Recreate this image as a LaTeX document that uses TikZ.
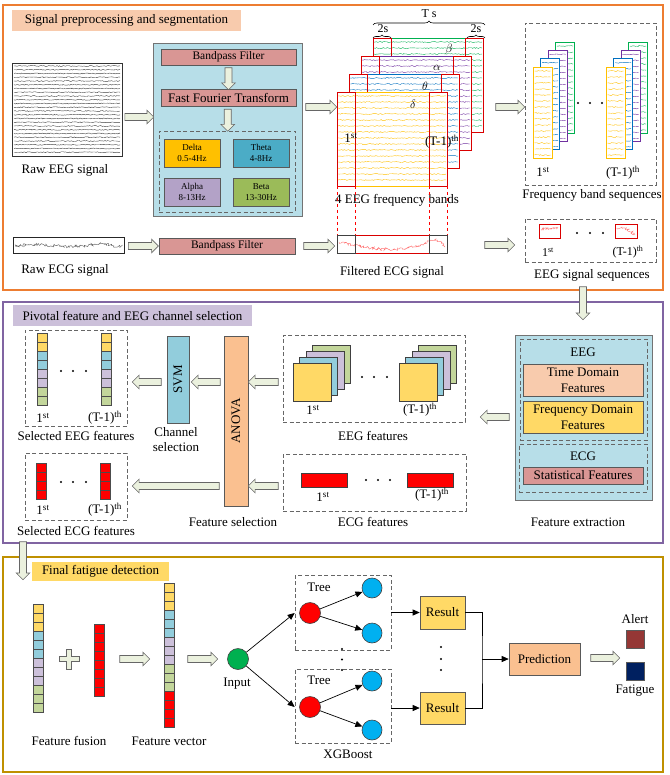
\documentclass[tikz,border=0pt]{standalone}
\usepackage{fontspec}
\setmainfont{Liberation Serif}
\usepackage{tikz}
\usetikzlibrary{arrows.meta,positioning,shapes.arrows,decorations.pathmorphing,decorations.pathreplacing,calc}
\usepackage{xcolor}
\definecolor{panelorange}{HTML}{ED7D31}
\definecolor{panelpurple}{HTML}{8064A2}
\definecolor{panelgold}{HTML}{BF9000}
\definecolor{titleorange}{HTML}{F8CBAD}
\definecolor{titlepurple}{HTML}{CCC0DA}
\definecolor{boxblue}{HTML}{B7DEE8}
\definecolor{filterred}{HTML}{D99694}
\definecolor{bandyellow}{HTML}{FFC000}
\definecolor{bandteal}{HTML}{4BACC6}
\definecolor{bandpurple}{HTML}{B3A2C7}
\definecolor{bandgreen}{HTML}{9BBB59}
\definecolor{lineyellow}{HTML}{FFC000}
\definecolor{lineblue}{HTML}{0070C0}
\definecolor{linepurple}{HTML}{7030A0}
\definecolor{linegreen}{HTML}{00B050}
\definecolor{featyellow}{HTML}{FFD966}
\definecolor{featblue}{HTML}{92CDDC}
\definecolor{featpurple}{HTML}{CCC0DA}
\definecolor{featgreen}{HTML}{C3D69B}
\definecolor{peach}{HTML}{FAC090}
\definecolor{peachlight}{HTML}{F8CBAD}
\definecolor{arrowfill}{HTML}{EBF1DE}
\definecolor{inputgreen}{HTML}{00B050}
\definecolor{treeblue}{HTML}{00B0F0}
\definecolor{alertred}{HTML}{953735}
\definecolor{fatiguenavy}{HTML}{002060}
\newcommand{\fsz}[2][15]{\fontsize{#2}{#1}\selectfont}

\begin{document}
\begin{tikzpicture}[x=1pt,y=-1pt,
  blk/.style={draw=black!65, line width=0.6pt, fill=#1, inner sep=0pt, align=center, font=\fsz{13}},
  dbox/.style={draw=black!60, dash pattern=on 4pt off 2.5pt, line width=0.7pt, inner sep=0pt},
  lbl/.style={font=\fsz{13}, inner sep=0pt, align=center},
  fat/.style={single arrow, draw=black!60, fill=arrowfill, minimum height=#1, minimum width=13pt, single arrow head extend=3.3pt, inner sep=3.2pt, line width=0.6pt},
  fatL/.style={fat=#1, shape border rotate=180},
  fatD/.style={fat=#1, shape border rotate=270},
  circ/.style={circle, draw=black!75, line width=0.6pt, fill=#1, minimum size=21pt, inner sep=0pt},
  arr/.style={-{Triangle[length=7pt,width=6pt]}, line width=0.7pt},
  wave/.style={decorate, decoration={random steps, segment length=1.3pt, amplitude=0.5pt}, line width=0.4pt},
  noisy/.style={decorate, decoration={random steps, segment length=1pt, amplitude=1.4pt}, line width=0.45pt},
  cell/.style={draw=black!70, line width=0.4pt},
  window/.style={draw=red!85!black, line width=0.8pt, inner sep=0pt},
]
\pgfmathsetseed{7}
\useasboundingbox (0,0) rectangle (669,775);

% three panels
\draw[panelorange, line width=1.6pt] (3,5) rectangle (663,290);
\draw[panelpurple, line width=1.6pt] (3,302) rectangle (663,543);
\draw[panelgold, line width=1.6pt] (3,557) rectangle (663,772);

%%% signal preprocessing and segmentation
\node[lbl, fill=titleorange, minimum width=229, minimum height=21] (title1) at (126.5,20.5) {Signal preprocessing and segmentation};

\node[draw=black!80, line width=0.8pt, minimum width=110, minimum height=93, inner sep=0pt] (rawEEG) at (67,109.5) {};
\foreach \k in {0,...,23}
  \draw[wave, black!75] (14,66+3.75*\k) -- (120,66+3.75*\k);
\node[lbl] (rawEEGl) at (65,170) {Raw EEG signal};

\node[blk=boxblue, draw=black!55, minimum width=149, minimum height=173] (pre) at (227.5,129.5) {};
\node[blk=filterred, minimum width=135, minimum height=16, font=\fsz{11.5}] (bpf1) at (228.5,57) {Bandpass Filter};
\node[blk=filterred, minimum width=135, minimum height=17] (fft) at (228.5,97.5) {Fast Fourier Transform};
\node[dbox, minimum width=136, minimum height=81] (bandsbox) at (227,171.5) {};
\node[blk=bandyellow, minimum width=56, minimum height=28, font={\fsz[11]{9}}] (delta) at (192,153) {Delta\\0.5-4Hz};
\node[blk=bandteal, minimum width=56, minimum height=28, font={\fsz[11]{9}}] (theta) at (261,153) {Theta\\4-8Hz};
\node[blk=bandpurple, minimum width=56, minimum height=28, font={\fsz[11]{9}}] (alpha) at (192,192) {Alpha\\8-13Hz};
\node[blk=bandgreen, minimum width=56, minimum height=28, font={\fsz[11]{9}}] (beta) at (261,192) {Beta\\13-30Hz};

\node[fat=29] (a1) at ($(rawEEG.east)!.5!(pre.west)+(0,-2.5)$) {};
\node[fatD=22] (a2) at ($(bpf1.south)!.5!(fft.north)$) {};
\node[fatD=22] (a3) at ($(fft.south)!.5!(bandsbox.north)$) {};
\node[fat=31] (a4) at (319.5,107) {};

% four band sheets
\foreach \dx/\col/\lab in {36/linegreen/\beta, 24/linepurple/\alpha, 12/lineblue/\theta, 0/lineyellow/\delta} {
  \begin{scope}[shift={(337+\dx,92-1.5*\dx)}]
    \fill[white] (0,0) rectangle (110,94);
    \foreach \k in {0,...,14}
      \draw[wave, \col] (1,4+6*\k) -- (109,4+6*\k);
    \draw[\col, line width=0.8pt] (0,0) rectangle (110,94);
    \draw[red!85!black, line width=0.8pt] (0,0) rectangle (18,94) (92,0) rectangle (110,94);
    \node[font=\fsz{12.5}, inner sep=0pt] (greek\dx) at (76,12) {$\lab$};
  \end{scope}
}
\node[lbl] (sheetfirst) at (351,138) {1\textsuperscript{st}};
\node[lbl] (sheetlast) at (442,142) {(T-1)\textsuperscript{th}};
\draw[decorate, decoration={brace, amplitude=4pt}, line width=0.6pt] (373,25) -- (485,25);
\draw[decorate, decoration={brace, amplitude=3pt}, line width=0.6pt] (373,38) -- (391,38);
\draw[decorate, decoration={brace, amplitude=3pt}, line width=0.6pt] (467,38) -- (485,38);
\node[font=\fsz{12}, inner sep=0pt] (tslab) at (429,14) {T s};
\node[font=\fsz{12}, inner sep=0pt] (twosl) at (383,29) {2s};
\node[font=\fsz{12}, inner sep=0pt] (twosr) at (476,29) {2s};
\node[lbl] (bandsl) at (397,200) {4 EEG frequency bands};
\foreach \xx in {337,355,429,447}
  \draw[red, dashed, line width=0.5pt] (\xx,186) -- (\xx,235);

\node[fat=29] (a5) at (508.5,107) {};

% frequency band sequences
\node[dbox, minimum width=131, minimum height=162] (fbs) at (590.5,104) {};
\foreach \sx in {0,73}
  \foreach \dx/\col in {3/linegreen,2/linepurple,1/lineblue,0/lineyellow} {
    \begin{scope}[shift={(533+\sx+7.5*\dx,67-8.3*\dx)}]
      \fill[white] (0,0) rectangle (19,91);
      \foreach \k in {0,...,14}
        \draw[wave, \col] (1.5,4+6*\k) -- (17.5,4+6*\k);
      \draw[\col, line width=0.8pt] (0,0) rectangle (19,91);
    \end{scope}
  }
\foreach \xx in {578,590,602} \fill (\xx,103) circle (1.1);
\node[lbl] (fbsfirst) at (543,172) {1\textsuperscript{st}};
\node[lbl] (fbslast) at (623,173) {(T-1)\textsuperscript{th}};
\node[lbl] (fbsl) at (592,195) {Frequency band sequences};

% ECG row
\node[draw=black!85, line width=1pt, minimum width=111, minimum height=16, inner sep=0pt] (rawECG) at (68.5,246) {};
\draw[noisy, black!60] (15,246) .. controls (45,241) and (70,251) .. (95,244) .. controls (105,242) and (115,248) .. (122,246);
\node[lbl] (rawECGl) at (65,270) {Raw ECG signal};
\node[blk=filterred, minimum width=136, minimum height=16, font=\fsz{11.5}] (bpf2) at (227,246) {Bandpass Filter};
\node[fat=30] (a6) at ($(rawECG.east)!.5!(bpf2.west)$) {};
\node[fat=31] (a7) at (317.5,246) {};
\node[window, minimum width=110, minimum height=18] (fecg) at (392,244) {};
\draw[noisy, red!55] (339,242) .. controls (380,252) and (410,252) .. (431,240) .. controls (438,238) and (442,245) .. (445,247);
\draw[black!75, line width=0.7pt] (337,235) rectangle (355,253) (429,235) rectangle (447,253);
\node[lbl] (fecgl) at (392,272) {Filtered ECG signal};
\node[fat=30] (a8) at (498,245) {};

\node[dbox, minimum width=131, minimum height=43] (ess) at (590.5,240.5) {};
\node[window, minimum width=21, minimum height=14] (win1) at (549.5,231) {};
\node[window, minimum width=22, minimum height=14] (win2) at (626,231) {};
\draw[noisy, red!55] (541,230) .. controls (547,227) and (552,230) .. (558,227);
\draw[noisy, red!55] (617,228) .. controls (623,227) and (629,229) .. (635,235);
\foreach \xx in {577,590,603} \fill (\xx,233) circle (1.1);
\node[font=\fsz{12}, inner sep=0pt] (essfirst) at (548,252) {1\textsuperscript{st}};
\node[font=\fsz{12}, inner sep=0pt] (esslast) at (628,252) {(T-1)\textsuperscript{th}};
\node[lbl] (essl) at (592,275) {EEG signal sequences};

\node[fatD=33] (a9) at (583,301.5) {};

%%% pivotal feature and channel selection
\node[lbl, fill=titlepurple, minimum width=239, minimum height=21] (title2) at (132.5,315.5) {Pivotal feature and EEG channel selection};

\node[blk=boxblue, draw=black!55, minimum width=137, minimum height=165] (fext) at (583.5,417.5) {};
\node[dbox, minimum width=127, minimum height=101] (eegsub) at (583.5,389.5) {};
\node[lbl] (eegl) at (583,352) {EEG};
\node[blk=peachlight, minimum width=120, minimum height=32, font={\fsz[16]{13}}] (timef) at (583,380) {Time Domain\\Features};
\node[blk=featyellow, minimum width=120, minimum height=32, font={\fsz[16]{13}}] (freqf) at (583,417) {Frequency Domain\\Features};
\node[dbox, minimum width=128, minimum height=48] (ecgsub) at (583,468) {};
\node[lbl] (ecgl) at (583,456) {ECG};
\node[blk=filterred, minimum width=120, minimum height=17] (statf) at (583,475.5) {Statistical Features};
\node[lbl] (fextl) at (578,522) {Feature extraction};

\node[fatL=29] (b1) at (496.5,417) {};

\node[dbox, minimum width=182, minimum height=87] (eegfeat) at (374,378.5) {};
\foreach \sx in {0,106}
  \foreach \dx/\col in {3/featgreen,2/featpurple,1/featblue,0/featyellow}
    \draw[draw=black!75, line width=0.6pt, fill=\col] (293+\sx+6.5*\dx,363-6*\dx) rectangle ++(38,38);
\foreach \xx in {362,374,387} \fill (\xx,377) circle (1.1);
\node[lbl] (eegfirst) at (313,410) {1\textsuperscript{st}};
\node[lbl] (eeglast) at (420,410) {(T-1)\textsuperscript{th}};
\node[lbl] (eegfeatl) at (373,436) {EEG features};

\node[dbox, minimum width=183, minimum height=57] (ecgfeat) at (374.5,482.5) {};
\draw[draw=black!75, line width=0.6pt, fill=red] (301,473) rectangle (347,487) (407,473) rectangle (453,487);
\foreach \xx in {366,378,390} \fill (\xx,480) circle (1.1);
\node[lbl] (ecgfirst) at (323,497) {1\textsuperscript{st}};
\node[lbl] (ecglast) at (432,495) {(T-1)\textsuperscript{th}};
\node[lbl] (ecgfeatl) at (373,522) {ECG features};

\node[blk=peach, minimum width=170, minimum height=24, rotate=90] (anova) at (236,421) {ANOVA};
\node[lbl] (anoval) at (233,522) {Feature selection};
\node[fatL=30] (b2) at (265,382) {};
\node[fatL=30] (b3) at (265,486) {};

\node[blk=featblue, minimum width=87, minimum height=22, rotate=90] (svm) at (178,379.5) {SVM};
\node[lbl] (svml) at (176,440) {Channel\\selection};
\node[fatL=29] (b4) at (207.5,382) {};
\node[fatL=29] (b5) at (148.5,382) {};
\node[fatL=87] (b6) at (177.5,486) {};

\node[dbox, minimum width=102, minimum height=96] (seleeg) at (76,378) {};
\foreach \cx in {37,101}
  \foreach \c [count=\j from 0] in {featyellow,featyellow,featblue,featblue,featpurple,featpurple,featgreen,featgreen}
    \draw[cell, fill=\c] (\cx,333+9*\j) rectangle ++(10,9);
\foreach \xx in {61,73,86} \fill (\xx,371) circle (1.1);
\node[lbl] (selfirst) at (43,418) {1\textsuperscript{st}};
\node[lbl] (sellast) at (105,418) {(T-1)\textsuperscript{th}};
\node[lbl] (seleegl) at (76,436) {Selected EEG features};

\node[dbox, minimum width=102, minimum height=67] (selecg) at (76,486.5) {};
\foreach \cx in {36,100}
  \foreach \j in {0,...,3}
    \draw[cell, fill=red] (\cx,463+9*\j) rectangle ++(10,9);
\foreach \xx in {61,73,86} \fill (\xx,482) circle (1.1);
\node[lbl] (selcfirst) at (43,510) {1\textsuperscript{st}};
\node[lbl] (selclast) at (105,510) {(T-1)\textsuperscript{th}};
\node[lbl] (selecgl) at (76,531) {Selected ECG features};

\node[fatD=38] (b7) at (23,559) {};

%%% final fatigue detection
\node[lbl, fill=featyellow, minimum width=137, minimum height=19] (title3) at (100.5,571.5) {Final fatigue detection};

\foreach \c [count=\j from 0] in {featyellow,featyellow,featyellow,featblue,featblue,featblue,featpurple,featpurple,featpurple,featgreen,featgreen,featgreen} {
  \draw[cell, fill=\c] (33,604+9*\j) rectangle ++(10,9);
  \draw[cell, fill=\c] (164,583+9*\j) rectangle ++(10,9);
}
\foreach \j in {0,...,7}
  \draw[cell, fill=red] (94,624+9*\j) rectangle ++(10,9);
\foreach \j in {0,...,3}
  \draw[cell, fill=red] (164,691+9*\j) rectangle ++(10,9);
\draw[draw=black!60, fill=arrowfill, line width=0.6pt] (66.5,649) -- (71.5,649) -- (71.5,656.5) -- (79,656.5) -- (79,661.5) -- (71.5,661.5) -- (71.5,669) -- (66.5,669) -- (66.5,661.5) -- (59,661.5) -- (59,656.5) -- (66.5,656.5) -- cycle;
\node[fat=30] (c1) at (133,659) {};
\node[fat=30] (c2) at (201,659) {};
\node[lbl] (fusionl) at (69,741) {Feature fusion};
\node[lbl] (vectorl) at (169,741) {Feature vector};

\node[circ=inputgreen] (input) at (238,659) {};
\node[lbl] (inputl) at (237,684) {Input};
\node[dbox, minimum width=96, minimum height=75] (tree1) at (343,612.5) {};
\node[dbox, minimum width=96, minimum height=74] (tree2) at (343,706) {};
\node[lbl] (tree1l) at (319,587) {Tree};
\node[lbl] (tree2l) at (319,680) {Tree};
\node[circ=red] (root1) at (310,613) {};
\node[circ=red] (root2) at (310,707) {};
\node[circ=treeblue, minimum size=20pt] (leaf1) at (372,588) {};
\node[circ=treeblue, minimum size=20pt] (leaf2) at (372,633) {};
\node[circ=treeblue, minimum size=20pt] (leaf3) at (372,681) {};
\node[circ=treeblue, minimum size=20pt] (leaf4) at (372,730) {};
\draw[arr] (input) -- (tree1.west |- root1);
\draw[arr] (input) -- (tree2.west |- root2);
\draw[arr] (root1) -- (leaf1);
\draw[arr] (root1) -- (leaf2);
\draw[arr] (root2) -- (leaf3);
\draw[arr] (root2) -- (leaf4);
\foreach \yy in {649,659.5,670} \fill (342,\yy) circle (1.1);
\node[lbl] (xgbl) at (348,754) {XGBoost};

\node[blk=featyellow, minimum width=45, minimum height=33] (res1) at (442.5,612.5) {Result};
\node[blk=featyellow, minimum width=45, minimum height=32] (res2) at (442.5,708) {Result};
\draw[arr] (tree1) -- (res1);
\draw[arr] (tree2.east |- res2) -- (res2);
\foreach \yy in {647,659,670} \fill (441,\yy) circle (1.1);
\coordinate (join) at (482,659);
\node[blk=peach, minimum width=71, minimum height=32] (pred) at (544.5,659) {Prediction};
\draw[line width=0.7pt] (res1.east) -| (join) |- (res2.east);
\draw[arr] (join) -- (pred);
\node[fat=29] (c3) at (603.5,658) {};
\node[blk=alertred, minimum size=18] (alert) at (635,639.5) {};
\node[blk=fatiguenavy, minimum size=18] (fatigue) at (635,671) {};
\node[lbl] (alertl) at (635,619) {Alert};
\node[lbl] (fatiguel) at (635,691) {Fatigue};
\end{tikzpicture}
\end{document}
